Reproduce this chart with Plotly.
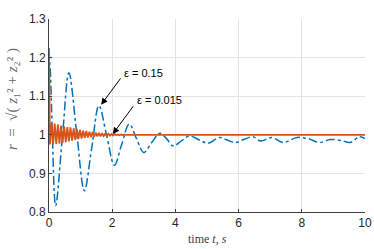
import plotly.graph_objects as go

# eps = 0.15 (blue dash-dot), key points
t_015 = [0, 0.05, 0.1, 0.21, 0.42, 0.63, 0.87, 1.12, 1.35, 1.58, 1.82, 2.07, 2.3, 2.54, 2.77, 3.0,
         3.25, 3.51, 3.72, 3.93, 4.2, 4.45, 4.8, 5.03, 5.4, 5.62, 5.9, 6.2, 6.45, 6.7, 7.05,
         7.4, 7.85, 8.2, 8.57, 8.9, 9.3, 9.52, 9.84, 10]
r_015 = [1.22, 1.15, 1.02, 0.816, 0.99, 1.161, 1.01, 0.855, 0.965, 1.076, 1.0, 0.921, 0.975, 1.028, 0.99, 0.954,
         0.98, 1.004, 0.99, 0.971, 0.985, 0.997, 0.985, 0.978, 0.993, 0.987, 0.980, 0.989, 0.995, 0.984, 0.993,
         0.980, 0.993, 0.990, 0.980, 0.988, 0.984, 0.980, 0.995, 0.990]

# eps = 0.015 (orange), fast decaying oscillation
t_0015 = [0, 0.03, 0.08, 0.13, 0.18, 0.23, 0.28, 0.33, 0.38, 0.43, 0.48, 0.53, 0.58, 0.63, 0.68,
          0.73, 0.78, 0.83, 0.88, 0.93, 0.98, 1.03, 1.08, 1.13, 1.18, 1.23, 1.28, 1.33, 1.38,
          1.43, 1.48, 1.53, 1.58, 1.63, 1.68, 1.73, 1.78, 1.83, 1.88, 1.93, 1.98, 2.03, 2.08,
          2.13, 2.18, 2.23, 2.28, 2.33, 2.38, 2.43, 10]
r_0015 = [1.225, 0.975, 1.030, 0.975, 1.029, 0.976, 1.027, 0.977, 1.024, 0.979, 1.022, 0.981, 1.020, 0.983, 1.019,
          0.985, 1.017, 0.987, 1.015, 0.989, 1.013, 0.990, 1.011, 0.992, 1.010, 0.993, 1.008, 0.994, 1.007,
          0.995, 1.006, 0.996, 1.005, 0.996, 1.004, 0.997, 1.003, 0.997, 1.003, 0.998, 1.002, 0.998, 1.002,
          0.999, 1.001, 0.999, 1.001, 0.999, 1.001, 1.0, 1.0]

x_ticks = [0, 2, 4, 6, 8, 10]
y_ticks = [0.8, 0.9, 1.0, 1.1, 1.2, 1.3]
y_tick_text = ["0.8", "0.9", "1", "1.1", "1.2", "1.3"]

label_015 = "ε = 0.15"
label_0015 = "ε = 0.015"

fig = go.Figure()
fig.add_trace(go.Scatter(x=t_015, y=r_015, mode="lines",
                         line=dict(color="#0072BD", width=1.5, dash="dashdot", shape="spline", smoothing=1.0),
                         showlegend=False))
fig.add_trace(go.Scatter(x=t_0015, y=r_0015, mode="lines",
                         line=dict(color="#D95319", width=1.8),
                         showlegend=False))

axis_common = dict(showgrid=True, gridcolor="#e3e3e3", gridwidth=1, showline=True,
                   linecolor="#404040", linewidth=1, ticks="inside", ticklen=3,
                   tickcolor="#404040", zeroline=False, automargin=False,
                   tickfont=dict(family="Liberation Sans, Arial", size=12, color="#262626"))

fig.update_xaxes(range=[0, 10], tickvals=x_ticks, **axis_common)
fig.update_yaxes(range=[0.8, 1.3], tickvals=y_ticks, ticktext=y_tick_text, **axis_common)

# axis labels
fig.add_annotation(xref="paper", yref="paper", x=0.5, y=0, yshift=-27, yanchor="middle",
                   text="time <i>t</i>, <i>s</i>", showarrow=False,
                   font=dict(family="Liberation Serif, serif", size=12, color="#404040"))
fig.add_annotation(xref="paper", yref="paper", x=0, xshift=-37, y=0.585, xanchor="center",
                   yanchor="middle", textangle=-90,
                   text="<i>r</i>  =  √( <i>z</i>₁² + <i>z</i>₂² )", showarrow=False,
                   font=dict(family="Liberation Serif, serif", size=15, color="#666666"))

# arrows
fig.add_annotation(x=1.65, y=1.078, ax=2.30, ay=1.150, axref="x", ayref="y", xref="x", yref="y",
                   text="", showarrow=True, arrowhead=2, arrowsize=1.3, arrowwidth=1, arrowcolor="#000000")
fig.add_annotation(x=2.02, y=1.002, ax=2.70, ay=1.078, axref="x", ayref="y", xref="x", yref="y",
                   text="", showarrow=True, arrowhead=2, arrowsize=1.3, arrowwidth=1, arrowcolor="#000000")
fig.add_annotation(x=3.0, y=1.161, text=label_015, showarrow=False,
                   font=dict(family="Liberation Sans, Arial", size=11, color="#000000"))
fig.add_annotation(x=3.51, y=1.091, text=label_0015, showarrow=False,
                   font=dict(family="Liberation Sans, Arial", size=11, color="#000000"))

fig.update_layout(width=374, height=249, margin=dict(l=49, r=9, t=19, b=37),
                  plot_bgcolor="white", paper_bgcolor="white")

fig.write_html("out.html", config={"displayModeBar": False},
               post_script="document.body.style.margin='0';document.body.style.overflow='hidden';")
